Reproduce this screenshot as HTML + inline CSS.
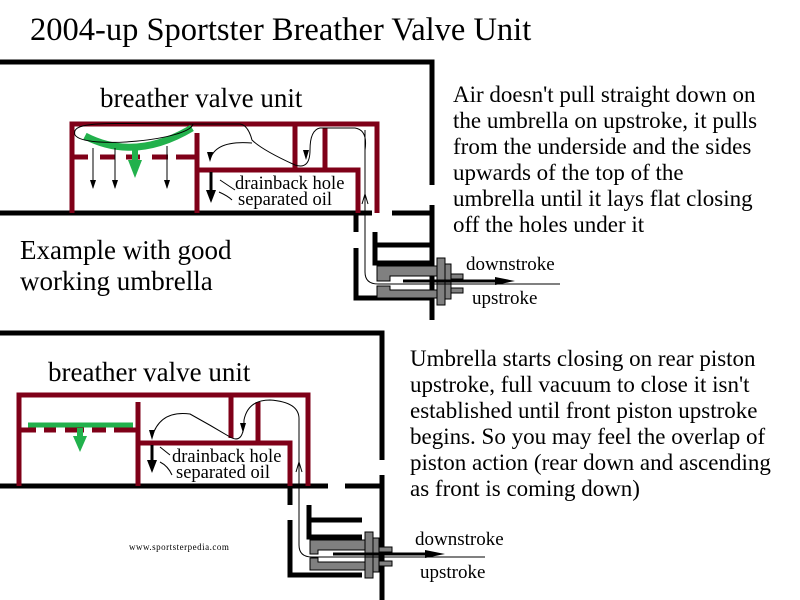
<!DOCTYPE html>
<html><head><style>body{margin:0;background:#fff}svg{display:block}</style></head><body>
<svg width="800" height="600" viewBox="0 0 800 600" xmlns="http://www.w3.org/2000/svg" font-family="Liberation Serif, serif">
<rect width="800" height="600" fill="#fff"/>
<text x="30" y="40" font-size="32.5">2004-up Sportster Breather Valve Unit</text>
<!-- TOP -->
<g fill="none" stroke="#000" stroke-width="5">
<path d="M0,62 H432 V185 M432,205 V320"/>
<path d="M0,213 H372 M392,213 H432"/>
<path d="M356,213 V232 M356,248 V298 H432"/>
<path d="M375,232 V263 H432 M375,245 H432"/>
</g>
<g fill="#808080" stroke="#000" stroke-width="1">
<path d="M377,266 H437 V276 H390 V281 H377Z"/>
<path d="M377,286 H390 V290 H437 V298 H377Z"/>
<rect x="437" y="258" width="8" height="47"/>
<rect x="445" y="264" width="6" height="35"/>
<rect x="451" y="274" width="12" height="5"/>
<rect x="451" y="288" width="12" height="5"/>
</g>
<path d="M403,281 H495" stroke="#000" stroke-width="3"/>
<path d="M495,277 L515,281 L495,285Z"/>
<path d="M365,130 V272 Q365,284 378,284 H560" stroke="#000" stroke-width="1" fill="none"/>
<path d="M362,204 L365,194 L368,204" stroke="#000" fill="none"/>
<text x="466" y="270" font-size="19">downstroke</text>
<text x="472" y="304" font-size="19">upstroke</text>
<g fill="none" stroke="#7f0018" stroke-width="5">
<path d="M72,213 V124 H377 V213"/>
<path d="M197,133 V213 M197,170 H358 V213"/>
<path d="M295,124 V168 M325,128 V168"/>
<path d="M72,157 H88 M100,157 H115 M126,157 H140 M152,157 H168 M176,157 H197"/>
</g>
<path d="M85,136 Q135,162 192,128" stroke="#22b14c" stroke-width="7" fill="none"/>
<path d="M135,145 V165" stroke="#22b14c" stroke-width="6"/>
<path d="M128,160 L135,178 L142,160Z" fill="#22b14c"/>
<g stroke="#000" stroke-width="1" fill="none">
<path d="M193,124 H240 Q248,125 252,140 Q262,150 295,165 Q310,170 310,150 Q310,130 320,128 H355 Q368,130 365,150"/>
<path d="M193,124 C110,124 70,120 75,135 C85,150 190,140 193,124"/>
<path d="M93,148 V188 M115,148 V188 M167,146 V188"/>
<path d="M252,143 Q215,140 210,160"/>
<path d="M220,180 L235,190 M219,192 Q228,196 232,200"/>
<path d="M306,150 V158"/>
</g>
<path d="M90,180 L93,189 L96,180Z M112,180 L115,189 L118,180Z M164,180 L167,189 L170,180Z M207,152 L210,162 L213,152Z M303,150 L306,160 L309,150Z"/>
<path d="M211,172 V195" stroke="#000" stroke-width="3"/>
<path d="M206,190 L211,203 L216,190Z"/>
<text x="235" y="189" font-size="18.5">drainback hole</text>
<text x="238" y="205" font-size="18.5">separated oil</text>
<text x="100" y="107" font-size="27">breather valve unit</text>
<text x="20" y="259" font-size="27">Example with good</text>
<text x="20" y="290" font-size="27">working umbrella</text>
<g font-size="23">
<text x="453" y="102">Air doesn't pull straight down on</text>
<text x="453" y="128">the umbrella on upstroke, it pulls</text>
<text x="453" y="154">from the underside and the sides</text>
<text x="453" y="180">upwards of the top of the</text>
<text x="453" y="206">umbrella until it lays flat closing</text>
<text x="453" y="232">off the holes under it</text>
</g>
<!-- BOTTOM -->
<g fill="none" stroke="#000" stroke-width="5">
<path d="M0,333 H382 V460 M382,475 V600"/>
<path d="M0,486 H328 M345,486 H382"/>
<path d="M290,486 V505 M290,520 V575 H362"/>
<path d="M309,505 V537 H362 M309,520 H362"/>
</g>
<g fill="#808080" stroke="#000" stroke-width="1">
<path d="M310,540 H367 V550 H318 V554 H310Z"/>
<path d="M310,558 H318 V562 H367 V570 H310Z"/>
<rect x="365" y="532" width="8" height="46"/>
<rect x="373" y="538" width="6" height="34"/>
<rect x="379" y="547" width="13" height="5"/>
<rect x="379" y="561" width="13" height="5"/>
</g>
<path d="M333,554 H425" stroke="#000" stroke-width="3"/>
<path d="M425,550 L445,554 L425,558Z"/>
<path d="M299,465 V545 Q299,557 312,557 H485" stroke="#000" stroke-width="1" fill="none"/>
<path d="M296,472 L299,462 L302,472" stroke="#000" fill="none"/>
<text x="415" y="545" font-size="19">downstroke</text>
<text x="420" y="578" font-size="19">upstroke</text>
<g fill="none" stroke="#7f0018" stroke-width="5">
<path d="M19,486 V395 H308 V486"/>
<path d="M138,402 V486 M138,443 H290 V486"/>
<path d="M231,395 V438 M258,402 V441"/>
<path d="M19,430 H36 M44,430 H56 M65,430 H84 M92,430 H106 M114,430 H138"/>
</g>
<path d="M28,425 H133" stroke="#22b14c" stroke-width="5"/>
<path d="M80,428 V440" stroke="#22b14c" stroke-width="6"/>
<path d="M73,436 L80,452 L87,436Z" fill="#22b14c"/>
<g stroke="#000" stroke-width="1" fill="none">
<path d="M152,437 Q160,410 190,414 Q210,425 230,437 Q244,445 244,420 Q248,400 270,400 Q300,402 299,420 V470"/>
<path d="M160,447 L170,455 M160,462 Q168,466 172,475"/>
</g>
<path d="M149,430 L152,440 L155,430Z M240,423 L243,433 L246,423Z"/>
<path d="M152,445 V465" stroke="#000" stroke-width="3"/>
<path d="M147,460 L152,473 L157,460Z"/>
<text x="172" y="462" font-size="18.5">drainback hole</text>
<text x="176" y="478" font-size="18.5">separated oil</text>
<text x="48" y="381" font-size="27">breather valve unit</text>
<text x="129" y="550" font-size="9" letter-spacing="0.5">www.sportsterpedia.com</text>
<g font-size="23">
<text x="410" y="366">Umbrella starts closing on rear piston</text>
<text x="410" y="392">upstroke, full vacuum to close it isn't</text>
<text x="410" y="418">established until front piston upstroke</text>
<text x="410" y="444">begins. So you may feel the overlap of</text>
<text x="410" y="470">piston action (rear down and ascending</text>
<text x="410" y="496">as front is coming down)</text>
</g>
</svg>
</body></html>
